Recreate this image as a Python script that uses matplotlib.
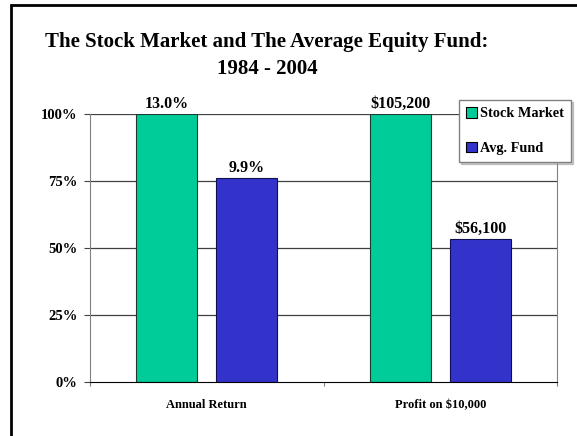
import numpy as np
import matplotlib
matplotlib.use('Agg')
import matplotlib.pyplot as plt
from matplotlib.patches import Rectangle

# dados
categorias = ['Annual Return', 'Profit on $10,000']
series = ['Stock Market', 'Avg. Fund']
altura_mercado = [100, 100]      # % relativo ao mercado
altura_fundo = [76.2, 53.3]
rotulos_mercado = ['13.0%', '$105,200']
rotulos_fundo = ['9.9%', '$56,100']
yticks = [0, 25, 50, 75, 100]
ytick_labels = ['0%', '25%', '50%', '75%', '100%']

cor_mercado = '#00CC99'
cor_fundo = '#3333CC'

plt.rcParams['font.family'] = ['Liberation Serif', 'DejaVu Serif']
plt.rcParams['font.weight'] = 'bold'

W, H = 577, 436
fig = plt.figure(figsize=(W / 100, H / 100), dpi=100)

# moldura da figura
fig.patches.append(Rectangle((11 / W, -0.1), 1.2, 1 - 4.5 / H + 0.1,
                             transform=fig.transFigure, fill=False,
                             edgecolor='black', linewidth=2))

ax = fig.add_axes([90 / W, (H - 382) / H, (557 - 90) / W, (382 - 114) / H])

x = np.arange(len(categorias))
largura = 0.26
desloc = 0.171

b1 = ax.bar(x - desloc, altura_mercado, largura, color=cor_mercado,
            edgecolor='#1a3a30', linewidth=0.8, label=series[0], zorder=3)
b2 = ax.bar(x + desloc, altura_fundo, largura, color=cor_fundo,
            edgecolor='#101050', linewidth=0.8, label=series[1], zorder=3)

for barras, rotulos in [(b1, rotulos_mercado), (b2, rotulos_fundo)]:
    for barra, txt in zip(barras, rotulos):
        ax.annotate(txt, (barra.get_x() + barra.get_width() / 2, barra.get_height()),
                    xytext=(0, 1.5), textcoords='offset points',
                    ha='center', va='bottom', fontsize=11.5, fontweight='bold')

ax.set_xlim(-0.5, 1.5)
ax.set_ylim(0, 100)

ax.set_yticks(yticks)
ax.set_yticklabels(ytick_labels)
ax.tick_params(axis='y', direction='out', length=4, width=0.8, color='#444444',
               pad=5, labelsize=10.5)

ax.set_xticks([-0.5, 0.5, 1.5])
ax.set_xticklabels([])
ax.set_xticks(x, minor=True)
ax.set_xticklabels(categorias, minor=True)
ax.tick_params(axis='x', which='major', direction='out', length=3, width=0.8, color='#808080')
ax.tick_params(axis='x', which='minor', length=0, pad=12, labelsize=9)

for v in yticks[1:]:
    ax.axhline(v, color='#404040', linewidth=0.9, zorder=1)

ax.spines['top'].set_visible(False)
ax.spines['left'].set_color('#808080')
ax.spines['right'].set_color('#808080')
ax.spines['bottom'].set_color('black')
ax.spines['bottom'].set_zorder(4)

leg = ax.legend(loc='upper left', bbox_to_anchor=(459 / W, 1 - 100 / H),
                bbox_transform=fig.transFigure, fontsize=10.3, frameon=True,
                fancybox=False, shadow={'color': '#999999', 'ox': 1.5, 'oy': -1.5},
                handlelength=0.75, handleheight=0.75, handletextpad=0.2,
                labelspacing=1.5, borderpad=0.5, borderaxespad=0)
leg.get_frame().set_edgecolor('#808080')
leg.get_frame().set_linewidth(1)
for h in leg.legend_handles:
    h.set_edgecolor('black')
    h.set_linewidth(0.8)

fig.text(267 / W, 1 - 42 / H, 'The Stock Market and The Average Equity Fund:',
         ha='center', va='center', fontsize=15, fontweight='bold')
fig.text(267 / W, 1 - 69 / H, '1984 - 2004',
         ha='center', va='center', fontsize=15, fontweight='bold')

fig.savefig('out.png', dpi=100)
